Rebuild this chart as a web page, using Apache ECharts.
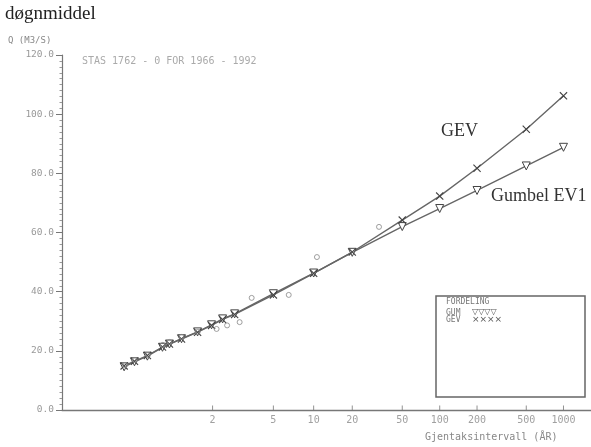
<!DOCTYPE html>
<html>
<head>
<meta charset="utf-8">
<script src="https://cdn.jsdelivr.net/npm/echarts@6/dist/echarts.min.js"></script>
<style>html,body{margin:0;padding:0;background:#fff;}#c{width:591px;height:447px;}</style>
</head>
<body>
<div id="c"></div>
<script>
// ---- data ----
// return periods (years) of the fitted-curve markers
const fitT = [1.028, 1.054, 1.107, 1.207, 1.270, 1.409, 1.666, 1.974, 2.287, 2.714, 5, 10, 20, 50, 100, 200, 500, 1000];
// Gumbel EV1 fitted discharge (m3/s)
const gumQ = [14.6, 16.3, 18.2, 21.2, 22.3, 24.1, 26.4, 28.8, 30.8, 32.5, 39.3, 46.3, 53.3, 62.0, 68.1, 74.2, 82.5, 88.8];
// GEV fitted discharge (m3/s)
const gevQ = [14.9, 16.5, 18.4, 21.3, 22.3, 24.0, 26.3, 28.6, 30.6, 32.3, 38.9, 46.2, 53.4, 64.2, 72.3, 81.7, 94.9, 106.2];
// observed annual maxima: plotting-position return periods and values
const obsT = [1.03, 1.055, 1.11, 1.21, 1.27, 1.41, 1.67, 2.108, 2.435, 2.924, 3.517, 6.48, 10.6, 32.6];
const obsQ = [15.2, 16.9, 18.6, 22.0, 23.0, 24.7, 26.4, 27.4, 28.6, 29.7, 37.9, 38.9, 51.7, 61.9];
// x-axis tick return periods and labels
const xTickT = [2, 5, 10, 20, 50, 100, 200, 500, 1000];
const xTickLabels = ['2', '5', '10', '20', '50', '100', '200', '500', '1000'];
// y-axis ticks
const yMin = 0, yMax = 120, yStep = 20;

// Gumbel probability scale: reduced variate of a return period
function gx(T) { return -Math.log(-Math.log(1 - 1 / T)); }

const mono = 'DejaVu Sans Mono';
const xPath = 'path://M0,1L1,0L5,4L9,0L10,1L6,5L10,9L9,10L5,6L1,10L0,9L4,5Z';

const chart = echarts.init(document.getElementById('c'), null, {renderer: 'canvas'});
chart.setOption({
  animation: false,
  backgroundColor: '#fff',
  grid: {left: 62, right: 0, top: 55, bottom: 37, containLabel: false},
  xAxis: {
    type: 'value', min: -2.44, max: 7.42,
    axisLine: {show: true, onZero: false, lineStyle: {color: '#777', width: 1.3}},
    axisTick: {show: false}, axisLabel: {show: false}, splitLine: {show: false}
  },
  yAxis: {
    type: 'value', min: yMin, max: yMax, interval: yStep,
    axisLine: {show: true, onZero: false, lineStyle: {color: '#777', width: 1.2}},
    axisTick: {show: true, length: 6, lineStyle: {color: '#777'}},
    minorTick: {show: true, splitNumber: 10, length: 2.5, lineStyle: {color: '#999'}},
    axisLabel: {formatter: v => v.toFixed(1), fontFamily: mono, fontSize: 9.5, color: '#999', margin: 8},
    splitLine: {show: false}
  },
  series: [
    {
      name: 'Gumbel EV1', type: 'line',
      data: fitT.map((t, i) => [gx(t), gumQ[i]]),
      symbol: 'triangle', symbolRotate: 180, symbolSize: 8, showAllSymbol: true,
      itemStyle: {color: '#fff', borderColor: '#444', borderWidth: 1},
      lineStyle: {color: '#666', width: 1.4}, silent: true, z: 3
    },
    {
      name: 'GEV', type: 'line',
      data: fitT.map((t, i) => [gx(t), gevQ[i]]),
      symbol: xPath, symbolSize: 8, showAllSymbol: true,
      itemStyle: {color: '#444'},
      lineStyle: {color: '#666', width: 1.4}, silent: true, z: 3
    },
    {
      name: 'obs', type: 'scatter',
      data: obsT.map((t, i) => [gx(t), obsQ[i]]),
      symbol: 'circle', symbolSize: 5,
      itemStyle: {color: 'rgba(0,0,0,0)', borderColor: '#888', borderWidth: 1},
      silent: true, z: 4
    },
    {
      name: 'xticks', type: 'scatter', clip: false,
      data: xTickT.map((t, i) => ({value: [gx(t), 0], name: xTickLabels[i]})),
      symbol: 'rect', symbolSize: [1, 5], symbolOffset: [0, -2],
      itemStyle: {color: '#777'},
      label: {show: true, position: 'bottom', distance: 5, formatter: '{b}', fontFamily: mono, fontSize: 10, color: '#888'},
      silent: true, z: 2
    }
  ],
  graphic: [
    {type: 'text', left: 5, top: 5, style: {text: 'døgnmiddel', font: '19px "Liberation Serif"', fill: '#222'}},
    {type: 'text', left: 8, top: 36, style: {text: 'Q (M3/S)', font: '9px "DejaVu Sans Mono"', fill: '#888'}},
    {type: 'text', left: 82, top: 56, style: {text: 'STAS 1762 - 0 FOR 1966 - 1992', font: '10px "DejaVu Sans Mono"', fill: '#aaa'}},
    {type: 'text', left: 441, top: 122, style: {text: 'GEV', font: '18px "Liberation Serif"', fill: '#333'}},
    {type: 'text', left: 491, top: 187, style: {text: 'Gumbel EV1', font: '18px "Liberation Serif"', fill: '#333'}},
    {type: 'text', left: 425, top: 432, style: {text: 'Gjentaksintervall (ÅR)', font: '10px "DejaVu Sans Mono"', fill: '#888'}},
    {type: 'rect', shape: {x: 436, y: 296, width: 149, height: 101}, style: {fill: 'none', stroke: '#666', lineWidth: 1.5}},
    {type: 'text', left: 446, top: 298, style: {text: 'FORDELING', font: '8px "DejaVu Sans Mono"', fill: '#777'}},
    {type: 'text', left: 446, top: 309, style: {text: 'GUM', font: '8px "DejaVu Sans Mono"', fill: '#777'}},
    {type: 'text', left: 446, top: 316, style: {text: 'GEV', font: '8px "DejaVu Sans Mono"', fill: '#777'}},
    {type: 'text', left: 472, top: 308, style: {text: '▽▽▽▽', font: '8px "DejaVu Sans"', fill: '#555'}},
    {type: 'text', left: 472, top: 315, style: {text: '××××', font: '9px "DejaVu Sans"', fill: '#555'}}
  ]
});
</script>
</body>
</html>
